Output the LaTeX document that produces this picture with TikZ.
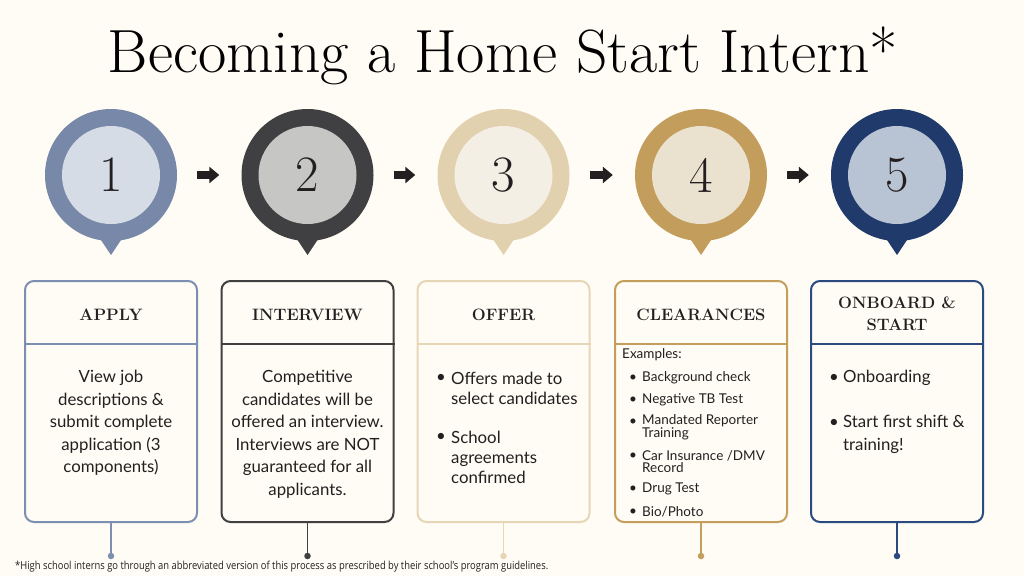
\documentclass[tikz,border=0pt]{standalone}
\usepackage{fontspec}
\usepackage{graphicx}
\usetikzlibrary{arrows.meta}
\newfontfamily\bodyfont{Lato}
\newfontfamily\notefont{Open Sans}
\definecolor{bg}{HTML}{FFFCF5}
\definecolor{oA}{HTML}{7788A8}\definecolor{iA}{HTML}{D6DCE6}\definecolor{bA}{HTML}{7D8FB0}
\definecolor{oB}{HTML}{404042}\definecolor{iB}{HTML}{C6C6C4}\definecolor{bB}{HTML}{404040}
\definecolor{oC}{HTML}{E2D1AF}\definecolor{iC}{HTML}{F3EFE5}\definecolor{bC}{HTML}{E6D6B5}
\definecolor{oD}{HTML}{C29D5C}\definecolor{iD}{HTML}{EBE1CF}\definecolor{bD}{HTML}{C49E5C}
\definecolor{oE}{HTML}{1F3A6B}\definecolor{iE}{HTML}{B8C3D3}\definecolor{bE}{HTML}{2A4A80}
\definecolor{ink}{HTML}{231F20}
\begin{document}
\begin{tikzpicture}[x=1pt,y=-1pt,
  outer/.style={circle,minimum size=132pt,inner sep=0pt},
  inner/.style={circle,minimum size=98pt,inner sep=0pt,font=\fontsize{51}{51}\selectfont,text=ink},
  stepbox/.style={draw,rounded corners=9pt,line width=2pt,minimum width=172pt,minimum height=241pt,inner sep=0pt},
  head/.style={font=\bfseries\fontsize{16.5}{22}\selectfont,align=center,text=ink},
  body/.style={font=\bodyfont\fontsize{16.8}{22.5}\selectfont,align=center,text=ink,inner sep=0pt},
  bl/.style={font=\bodyfont\fontsize{16.8}{20}\selectfont,align=left,anchor=west,text=ink,inner sep=0pt},
  sm/.style={font=\bodyfont\fontsize{13.5}{11.5}\selectfont,align=left,anchor=west,text=ink,inner sep=0pt},
  flow/.style={line width=8pt,ink,-{Triangle[length=10pt,width=16pt]},shorten <=20pt,shorten >=22pt},
  dot/.style={circle,fill,inner sep=0pt,minimum size=6.5pt},
  stem/.style={line width=1.5pt}]
\fill[bg] (0,0) rectangle (1024,576);
\useasboundingbox (0,0) rectangle (1024,576);
% title
\node[text=black] (title) at (503,56) {\resizebox{790pt}{\height}{\fontsize{61}{61}\selectfont Becoming a Home Start Intern*}};
% circles
\foreach \n/\x/\o/\i in {1/111/oA/iA,2/307.5/oB/iB,3/503.5/oC/iC,4/701/oD/iD,5/897/oE/iE}{
  \fill[\o] (\x-14,234) -- (\x,255) -- (\x+14,234) -- cycle;
  \node[outer,fill=\o] (c\n) at (\x,175) {};
  \node[inner,fill=\i] (n\n) at (\x,175) {\n};
}
\foreach \a/\b in {1/2,2/3,3/4,4/5}{
  \draw[flow] (c\a.east) -- (c\b.west);
}
% boxes
\foreach \n/\x/\c in {1/111/bA,2/307.5/bB,3/503.5/bC,4/701/bD,5/897/bE}{
  \node[stepbox,draw=\c] (b\n) at (\x,401.5) {};
  \draw[\c,line width=1.8pt] (b\n.west |- 0,344) -- (b\n.east |- 0,344);
  \coordinate (d\n) at (\x,556);
  \draw[\c,stem] (b\n.south) -- (d\n);
  \node[dot,fill=\c] (p\n) at (d\n) {};
}
\node[head] (h1) at (111,315) {APPLY};
\node[head] (h2) at (307.5,315) {INTERVIEW};
\node[head] (h3) at (503.5,315) {OFFER};
\node[head] (h4) at (701,315) {CLEARANCES};
\node[head] (h5) at (897,314) {ONBOARD \&\\START};
% box 1,2
\node[body] (t1) at (111,423) {View job\\descriptions \&\\submit complete\\application (3\\components)};
\node[body] (t2) at (307.5,434.5) {Competitive\\candidates will be\\offered an interview.\\Interviews are NOT\\guaranteed for all\\applicants.};
% box 3
\node[bl] (g31) at (436,378) {•};
\node[bl] (t31) at (451,388) {Offers made to\\select candidates};
\node[bl] (g32) at (436,437) {•};
\node[bl] (t32) at (451,457) {School\\agreements\\confirmed};
% box 4
\node[sm] (ex) at (622,355) {Examples:};
\foreach \k/\y in {1/378,2/400,3/422,4/456,5/489,6/512}{
  \node[sm] (g4\k) at (629,\y) {•};
}
\node[sm] (t41) at (642,378) {Background check};
\node[sm] (t42) at (642,400) {Negative TB Test};
\node[sm] (t43) at (642,427.5) {Mandated Reporter\\Training};
\node[sm] (t44) at (642,461.5) {Car Insurance /DMV\\Record};
\node[sm] (t45) at (642,489) {Drug Test};
\node[sm] (t46) at (642,512) {Bio/Photo};
% box 5
\node[bl] (g51) at (829,378) {•};
\node[bl] (t51) at (843,378) {Onboarding};
\node[bl] (g52) at (829,423) {•};
\node[bl,font=\bodyfont\fontsize{16.8}{23}\selectfont] (t52) at (843,434.5) {Start first shift \&\\training!};
% footnote
\node[anchor=west,inner sep=0pt,text=ink] (note) at (15,567) {\resizebox{533pt}{\height}{\notefont\fontsize{11}{13}\selectfont *High school interns go through an abbreviated version of this process as prescribed by their school’s program guidelines.}};
\end{tikzpicture}
\end{document}
